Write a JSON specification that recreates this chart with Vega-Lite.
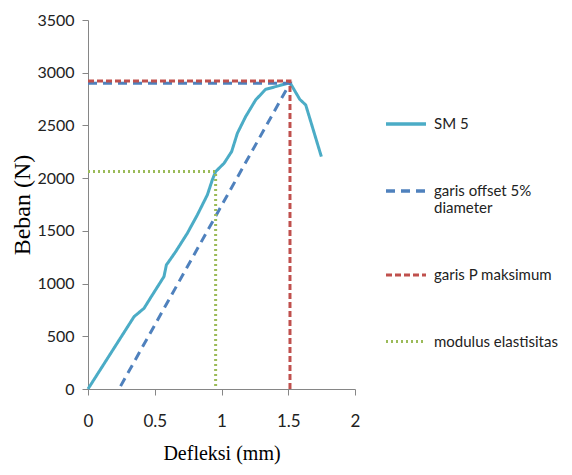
{
  "$schema": "https://vega.github.io/schema/vega-lite/v6.json",
  "width": 267,
  "height": 369,
  "padding": {"top": 12, "left": 10, "right": 5, "bottom": 5},
  "background": "white",
  "config": {"view": {"stroke": null},
    "axis": {"labelFont": "Lato, Roboto, sans-serif", "titleFont": "Liberation Serif, Times New Roman, serif"},
    "legend": {"labelFont": "Lato, Roboto, sans-serif"}},
  "data": {"values": [
    {"series": "SM 5", "o": 0, "x": 0, "y": 0},
    {"series": "SM 5", "o": 1, "x": 0.345, "y": 686},
    {"series": "SM 5", "o": 2, "x": 0.42, "y": 766},
    {"series": "SM 5", "o": 3, "x": 0.482, "y": 892},
    {"series": "SM 5", "o": 4, "x": 0.569, "y": 1066},
    {"series": "SM 5", "o": 5, "x": 0.587, "y": 1176},
    {"series": "SM 5", "o": 6, "x": 0.657, "y": 1303},
    {"series": "SM 5", "o": 7, "x": 0.744, "y": 1477},
    {"series": "SM 5", "o": 8, "x": 0.819, "y": 1651},
    {"series": "SM 5", "o": 9, "x": 0.894, "y": 1841},
    {"series": "SM 5", "o": 10, "x": 0.931, "y": 1983},
    {"series": "SM 5", "o": 11, "x": 0.956, "y": 2062},
    {"series": "SM 5", "o": 12, "x": 1.019, "y": 2141},
    {"series": "SM 5", "o": 13, "x": 1.076, "y": 2252},
    {"series": "SM 5", "o": 14, "x": 1.119, "y": 2426},
    {"series": "SM 5", "o": 15, "x": 1.181, "y": 2584},
    {"series": "SM 5", "o": 16, "x": 1.256, "y": 2742},
    {"series": "SM 5", "o": 17, "x": 1.331, "y": 2843},
    {"series": "SM 5", "o": 18, "x": 1.406, "y": 2868},
    {"series": "SM 5", "o": 19, "x": 1.513, "y": 2906},
    {"series": "SM 5", "o": 20, "x": 1.586, "y": 2748},
    {"series": "SM 5", "o": 21, "x": 1.631, "y": 2694},
    {"series": "SM 5", "o": 22, "x": 1.748, "y": 2204},
    {"series": "garis offset 5% diameter", "o": 0, "x": 0, "y": 2900},
    {"series": "garis offset 5% diameter", "o": 1, "x": 1.513, "y": 2900},
    {"series": "garis offset 5% diameter", "o": 2, "x": 0.232, "y": 0},
    {"series": "garis P maksimum", "o": 0, "x": 0, "y": 2922},
    {"series": "garis P maksimum", "o": 1, "x": 1.513, "y": 2922},
    {"series": "garis P maksimum", "o": 2, "x": 1.513, "y": 0},
    {"series": "modulus elastisitas", "o": 0, "x": 0, "y": 2062},
    {"series": "modulus elastisitas", "o": 1, "x": 0.956, "y": 2062},
    {"series": "modulus elastisitas", "o": 2, "x": 0.956, "y": 0}
  ]},
  "mark": {"type": "line", "strokeWidth": 3, "clip": false},
  "encoding": {
    "x": {"field": "x", "type": "quantitative",
      "scale": {"domain": [0, 2], "nice": false},
      "axis": {"values": [0, 0.5, 1, 1.5, 2], "grid": false, "title": "Defleksi (mm)", "format": "~g",
        "titleFontSize": 20, "titleFontWeight": "normal", "titleColor": "black",
        "labelFontSize": 17, "labelColor": "#222", "labelPadding": 18, "titlePadding": 14,
        "domainColor": "#868686", "tickColor": "#868686", "tickSize": 6, "labelFlush": false}},
    "y": {"field": "y", "type": "quantitative",
      "scale": {"domain": [0, 3500], "nice": false},
      "axis": {"values": [0, 500, 1000, 1500, 2000, 2500, 3000, 3500], "grid": false, "title": "Beban (N)", "format": "d",
        "titleFontSize": 24, "titleFontWeight": "normal", "titleColor": "black",
        "labelFontSize": 16, "labelColor": "#222", "labelPadding": 8, "titlePadding": 2,
        "domainColor": "#868686", "tickColor": "#868686", "tickSize": 6}},
    "order": {"field": "o", "type": "quantitative"},
    "color": {"field": "series", "type": "nominal",
      "scale": {"domain": ["SM 5", "garis offset 5% diameter", "garis P maksimum", "modulus elastisitas"],
        "range": ["#4bacc6", "#4f81bd", "#c0504d", "#9bbb59"]},
      "legend": {"title": null, "orient": "none", "legendX": 296, "legendY": 82,
        "symbolType": "stroke", "symbolSize": 1600, "symbolStrokeWidth": 3,
        "labelFontSize": 15, "labelColor": "#222", "rowPadding": 37, "labelOffset": 6, "labelLimit": 200,
        "labelExpr": "datum.label == 'garis offset 5% diameter' ? ['garis offset 5%', 'diameter'] : datum.label"}},
    "strokeDash": {"field": "series", "type": "nominal",
      "scale": {"domain": ["SM 5", "garis offset 5% diameter", "garis P maksimum", "modulus elastisitas"],
        "range": [[1, 0], [9, 6], [6, 3], [2, 3]]},
      "legend": null},
    "strokeWidth": {"field": "series", "type": "nominal",
      "scale": {"domain": ["SM 5", "garis offset 5% diameter", "garis P maksimum", "modulus elastisitas"],
        "range": [3.5, 3, 3, 2.5]},
      "legend": null}
  }
}
